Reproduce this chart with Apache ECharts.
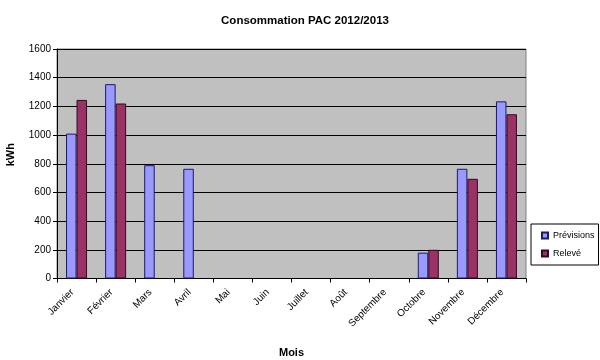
<!DOCTYPE html>
<html><head><meta charset="utf-8">
<script src="https://cdn.jsdelivr.net/npm/echarts@6/dist/echarts.min.js"></script>
<style>html,body{margin:0;padding:0;background:#fff}#c{width:600px;height:360px}</style>
</head><body><div id="c"></div>
<script>
var months = ['Janvier','Février','Mars','Avril','Mai','Juin','Juillet','Août','Septembre','Octobre','Novembre','Décembre'];
var previsions = [1010, 1355, 790, 765, null, null, null, null, null, 180, 765, 1235];
var releve = [1245, 1220, null, null, null, null, null, null, null, 200, 695, 1145];
var yTicks = [0, 200, 400, 600, 800, 1000, 1200, 1400, 1600];

var chart = echarts.init(document.getElementById('c'));
var font = 'Liberation Sans, Arial, sans-serif';
chart.setOption({
  animation: false,
  textStyle: {fontFamily: font},
  title: {text: 'Consommation PAC 2012/2013', left: 300, top: 10, textAlign: 'center',
    textStyle: {fontSize: 11.5, fontWeight: 'bold', color: '#000', fontFamily: font}},
  grid: {left: 57, right: 74, top: 49, bottom: 81.5, show: true, outerBoundsMode: 'none', containLabel: false,
    backgroundColor: '#C0C0C0', borderColor: '#808080', borderWidth: 1},
  legend: {orient: 'vertical', left: 531, top: 224, itemWidth: 6, itemHeight: 6, itemGap: 7,
    icon: 'rect', borderColor: '#000', borderWidth: 1, padding: [6, 4, 6, 10],
    textStyle: {fontSize: 9, color: '#000', fontFamily: font, lineHeight: 11},
    data: ['Prévisions', 'Relevé']},
  xAxis: {type: 'category', data: months, name: 'Mois', nameLocation: 'middle', nameGap: 69,
    nameTextStyle: {fontSize: 11, fontWeight: 'bold', color: '#000'},
    axisLine: {lineStyle: {color: '#000'}},
    axisTick: {show: true, alignWithLabel: false, length: 4, lineStyle: {color: '#000'}},
    axisLabel: {rotate: 45, fontSize: 10, color: '#000', margin: 8, interval: 0, padding: [0, 6, 0, 0]}},
  yAxis: {type: 'value', min: 0, max: 1600, interval: 200, name: 'kWh', nameLocation: 'middle', nameGap: 41,
    nameTextStyle: {fontSize: 11, fontWeight: 'bold', color: '#000', padding: [0, 0, 0, 18]},
    axisLine: {show: true, lineStyle: {color: '#000'}},
    axisTick: {show: true, length: 4, lineStyle: {color: '#000'}},
    axisLabel: {fontSize: 10, color: '#000', margin: 6,
      formatter: function (v) { return yTicks.indexOf(v) >= 0 ? String(v) : ''; }},
    splitLine: {lineStyle: {color: '#000', width: 1}}},
  series: [
    {name: 'Prévisions', type: 'bar', data: previsions, barWidth: 10.5, barGap: '0%',
      itemStyle: {color: '#9999FF', borderColor: '#1a1a66', borderWidth: 1}},
    {name: 'Relevé', type: 'bar', data: releve, barWidth: 10.5, barGap: '0%',
      itemStyle: {color: '#993366', borderColor: '#330a1e', borderWidth: 1}}
  ]
});
</script></body></html>
